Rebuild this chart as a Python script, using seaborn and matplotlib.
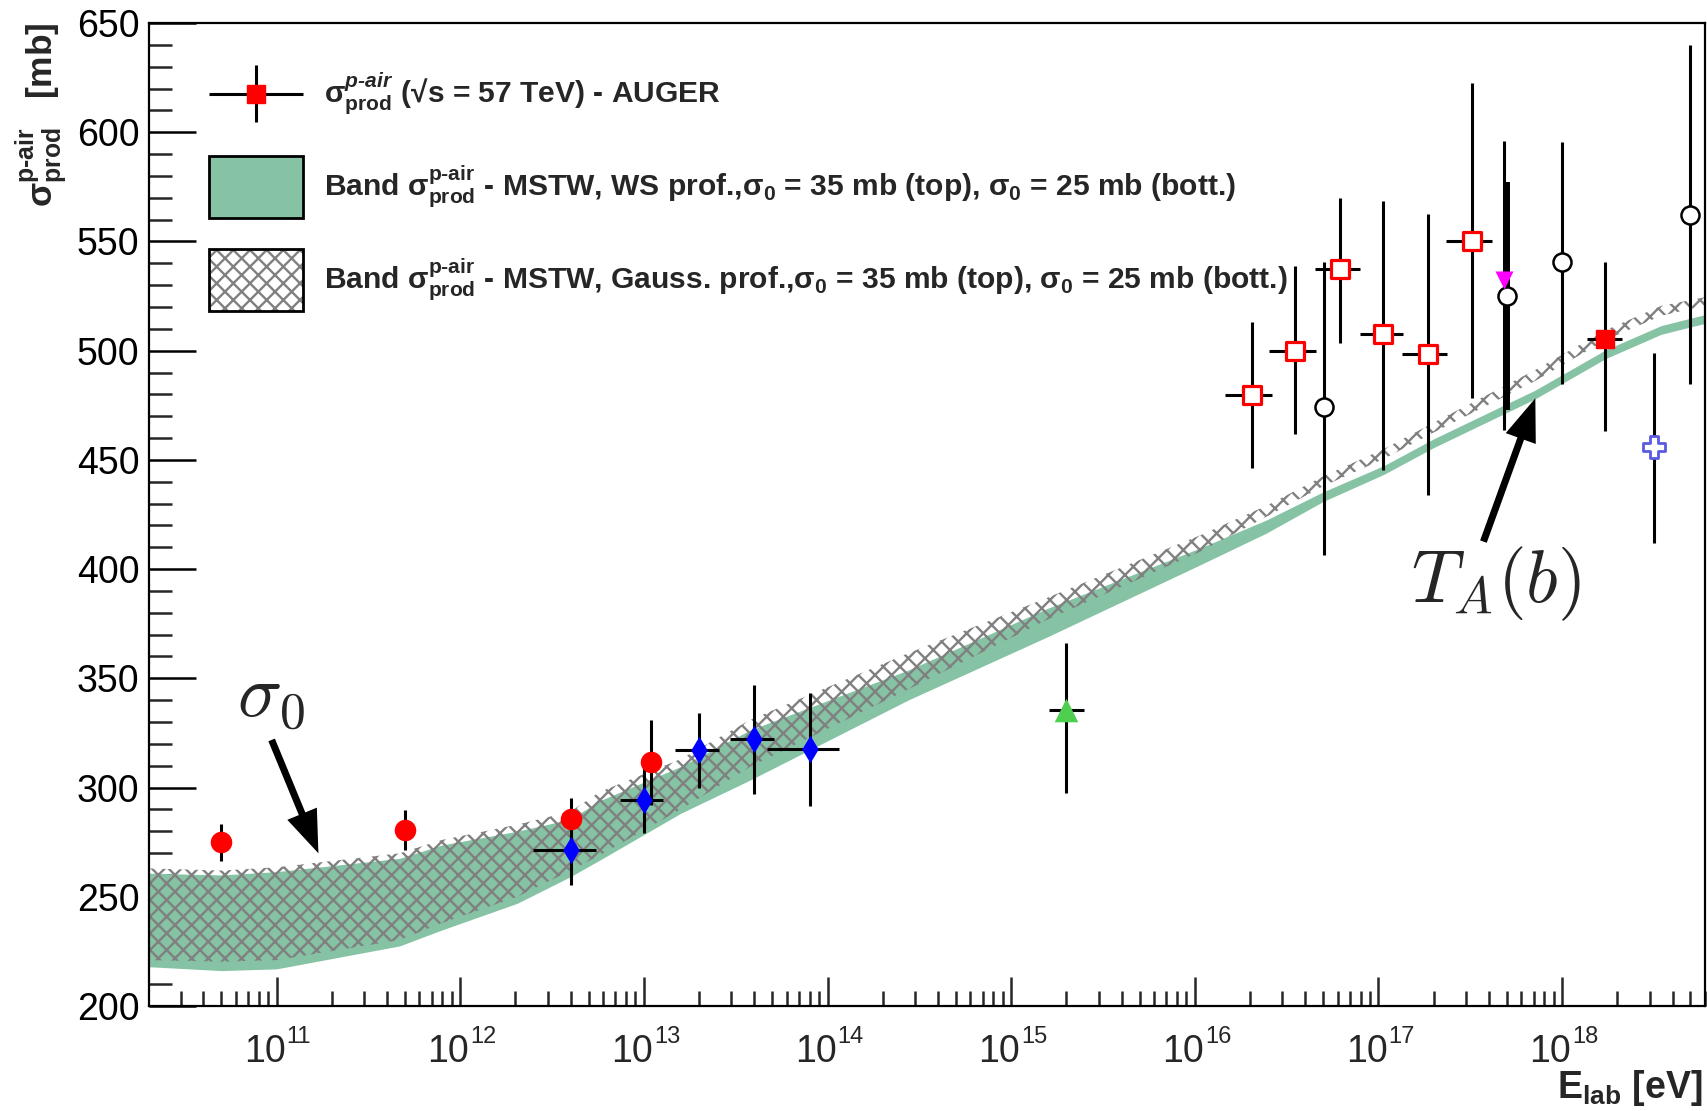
import numpy as np
import matplotlib
matplotlib.use("Agg")
import matplotlib.pyplot as plt
import seaborn as sns
from matplotlib.patches import Patch
from matplotlib.container import ErrorbarContainer
from matplotlib.legend_handler import HandlerErrorbar, HandlerTuple
from matplotlib.ticker import MultipleLocator, LogLocator, NullFormatter
from matplotlib.transforms import offset_copy

# ---------------- data ----------------
# model bands, sampled in log10(E_lab / eV)
band_logE = [10.30, 10.70, 11.00, 11.67, 11.90, 12.31, 12.60, 12.76, 13.20, 13.58, 14.44,
             15.20, 16.03, 16.39, 16.70, 17.03, 17.30, 17.85, 18.24, 18.54, 18.72, 18.78]
ws_low = [218.0, 216.2, 217.0, 227.5, 234.8, 247.0, 259.2, 266.8, 288.2, 303.5, 340.1,
          369.1, 402.0, 416.5, 431.0, 443.4, 455.6, 477.8, 496.5, 507.5, 511.3, 512.5]
ws_high = [260.8, 260.0, 261.5, 267.6, 273.7, 280.0, 285.5, 294.0, 309.6, 326.4, 353.8,
           382.1, 409.7, 422.5, 435.4, 447.4, 459.6, 481.8, 500.5, 511.5, 515.3, 516.5]
gauss_low = [221.0, 220.3, 221.0, 230.2, 238.0, 250.0, 262.0, 269.0, 290.0, 309.6, 345.0,
             377.0, 408.0, 424.0, 438.0, 450.5, 462.5, 486.0, 505.0, 516.0, 519.5, 520.5]
gauss_high = [263.0, 262.0, 263.5, 269.9, 276.0, 283.0, 289.0, 298.0, 313.0, 331.0, 361.5,
              387.0, 415.5, 429.0, 442.5, 455.0, 467.0, 491.0, 509.5, 520.5, 523.5, 524.5]

# red filled circles
rc_E = [5.0e10, 5.0e11, 4.0e12, 1.1e13]
rc_sig = [275.0, 280.5, 285.5, 311.5]
rc_err = [8.5, 9.0, 9.5, 19.5]

# blue diamonds
bd_E = [4.0e12, 1.0e13, 2.0e13, 4.0e13, 8.0e13]
bd_sig = [271.5, 294.5, 317.0, 322.0, 317.5]
bd_err = [16.0, 15.5, 17.0, 25.0, 26.0]
bd_Elo = [2.5e12, 7.4e12, 1.48e13, 2.95e13, 4.7e13]
bd_Ehi = [5.5e12, 1.27e13, 2.55e13, 5.1e13, 1.15e14]

# green triangle
gt_E = [2.0e15]
gt_sig = [335.5]
gt_lo = [297.4]
gt_hi = [366.0]
gt_Elo = [1.6e15]
gt_Ehi = [2.5e15]

# red open squares
os_E = [2.05e16, 3.52e16, 6.2e16, 1.06e17, 1.86e17, 3.23e17]
os_sig = [479.8, 500.0, 537.5, 507.6, 498.5, 550.4]
os_lo = [446.2, 461.9, 503.7, 445.4, 433.7, 478.2]
os_hi = [513.3, 538.8, 570.1, 568.7, 562.6, 622.5]
os_Elo = [1.46e16, 2.55e16, 4.49e16, 7.9e16, 1.34e17, 2.34e17]
os_Ehi = [2.63e16, 4.58e16, 7.96e16, 1.36e17, 2.36e17, 4.15e17]

# black open circles (the second one carries a thick bar)
oc_E = [5.07e16, 5.0e17, 1.0e18, 5.0e18]
oc_sig = [474.1, 525.2, 540.5, 561.9]
oc_lo = [406.5, 473.0, 484.7, 484.7]
oc_hi = [540.8, 577.0, 595.4, 639.7]

# magenta down triangle
mt_E = [4.8e17]
mt_sig = [532.4]
mt_lo = [463.7]
mt_hi = [596.2]

# AUGER point
au_E = [1.72e18]
au_sig = [505.3]
au_lo = [463.0]
au_hi = [540.8]
au_Elo = [1.36e18]
au_Ehi = [2.12e18]

# blue open cross
bc_E = [3.15e18]
bc_sig = [456.1]
bc_lo = [412.1]
bc_hi = [499.1]

ytick_values = [200, 250, 300, 350, 400, 450, 500, 550, 600, 650]
xtick_exponents = [11, 12, 13, 14, 15, 16, 17, 18]

label_auger = "$\\mathbf{\\sigma^{\\mathbfit{p\u2010air}}_{prod}}$ (\u221as = 57 TeV) - AUGER"
label_ws = ("Band $\\mathbf{\\sigma^{p\u2010air}_{prod}}$ - MSTW, WS prof.,"
            "$\\mathbf{\\sigma_0}$ = 35 mb (top), $\\mathbf{\\sigma_0}$ = 25 mb (bott.)")
label_gauss = ("Band $\\mathbf{\\sigma^{p\u2010air}_{prod}}$ - MSTW, Gauss. prof.,"
               "$\\mathbf{\\sigma_0}$ = 35 mb (top), $\\mathbf{\\sigma_0}$ = 25 mb (bott.)")
ylabel_text = "$\\mathbf{\\sigma^{p\u2010air}_{prod}}$ \u2002[mb]"
xlabel_text = "$\\mathbf{E_{lab}}$ [eV]"

# ---------------- style ----------------
sns.set_theme(style="white")
plt.rcParams.update({
    "font.family": ["Liberation Sans", "DejaVu Sans"],
    "mathtext.fontset": "custom",
    "mathtext.rm": "Liberation Sans",
    "mathtext.it": "Liberation Sans:italic",
    "mathtext.bf": "Liberation Sans:bold",
    "mathtext.bfit": "Liberation Sans:bold:italic",
    "mathtext.sf": "Liberation Sans",
    "hatch.linewidth": 1.7,
    "hatch.color": "#808080",
    "axes.linewidth": 1.6,
    "axes.edgecolor": "black",
})

GREEN = "#86c3a5"
HATCH = "#808080"
ELW = 2.2


class CenteredErrorbar(HandlerErrorbar):
    """Errorbar legend handle with the marker centred in a tall handle box."""

    def create_artists(self, legend, orig_handle, xdescent, ydescent, width, height,
                       fontsize, trans):
        return super().create_artists(legend, orig_handle, xdescent, 2 * ydescent,
                                      width, height, fontsize, trans)


fig = plt.figure(figsize=(17.08, 11.11), dpi=100)
ax = fig.add_axes([149 / 1708, 105 / 1111, 1556 / 1708, 983 / 1111])
ax.set_xscale("log")
ax.set_xlim(2.02e10, 6.0e18)
ax.set_ylim(200, 650)

# ---------------- bands ----------------
band_E = np.power(10.0, band_logE)
ax.fill_between(band_E, ws_low, ws_high, color=GREEN, lw=0, zorder=1)
ax.fill_between(band_E, gauss_low, gauss_high, facecolor="none", edgecolor=HATCH,
                hatch="xx", lw=0, zorder=2)


def asym(sig, lo, hi):
    s = np.asarray(sig)
    return [s - np.asarray(lo), np.asarray(hi) - s]


# ---------------- error bars ----------------
eb = dict(fmt="none", ecolor="black", elinewidth=ELW, capsize=0, zorder=3)
ax.errorbar(rc_E, rc_sig, yerr=rc_err, **eb)
ax.errorbar(bd_E, bd_sig, yerr=bd_err, xerr=asym(bd_E, bd_Elo, bd_Ehi), **eb)
ax.errorbar(gt_E, gt_sig, yerr=asym(gt_sig, gt_lo, gt_hi), xerr=asym(gt_E, gt_Elo, gt_Ehi), **eb)
ax.errorbar(os_E, os_sig, yerr=asym(os_sig, os_lo, os_hi), xerr=asym(os_E, os_Elo, os_Ehi), **eb)
thin = [0, 2, 3]
ax.errorbar([oc_E[i] for i in thin], [oc_sig[i] for i in thin],
            yerr=asym([oc_sig[i] for i in thin], [oc_lo[i] for i in thin], [oc_hi[i] for i in thin]), **eb)
ax.errorbar(oc_E[1:2], oc_sig[1:2], yerr=asym(oc_sig[1:2], oc_lo[1:2], oc_hi[1:2]),
            fmt="none", ecolor="black", elinewidth=4.3, capsize=0, zorder=3)
ax.errorbar(mt_E, mt_sig, yerr=asym(mt_sig, mt_lo, mt_hi), **eb)
ax.errorbar(bc_E, bc_sig, yerr=asym(bc_sig, bc_lo, bc_hi), **eb)

# ---------------- markers ----------------
sns.scatterplot(x=rc_E, y=rc_sig, marker="o", s=15.5 ** 2, color="red", linewidth=0, ax=ax, zorder=5)
sns.scatterplot(x=bd_E, y=bd_sig, marker="d", s=14 ** 2, color="blue", linewidth=0, ax=ax, zorder=5)
sns.scatterplot(x=gt_E, y=gt_sig, marker="^", s=17 ** 2, color="#4fcf4f", linewidth=0, ax=ax, zorder=5)
sns.scatterplot(x=os_E, y=os_sig, marker="s", s=13 ** 2, color="white", edgecolor="red",
                linewidth=2.3, ax=ax, zorder=5)
sns.scatterplot(x=oc_E, y=oc_sig, marker="o", s=13 ** 2, color="white", edgecolor="black",
                linewidth=1.8, ax=ax, zorder=5)
sns.scatterplot(x=mt_E, y=mt_sig, marker="v", s=13 ** 2, color="magenta", linewidth=0, ax=ax, zorder=6)
sns.scatterplot(x=bc_E, y=bc_sig, marker="P", s=16 ** 2, color="white", edgecolor="#5a5ae0",
                linewidth=2.0, ax=ax, zorder=5)
h_auger = ax.errorbar(au_E, au_sig, yerr=asym(au_sig, au_lo, au_hi), xerr=asym(au_E, au_Elo, au_Ehi),
                      fmt="s", ms=12.5, mfc="red", mec="red", ecolor="black", elinewidth=ELW,
                      capsize=0, zorder=6)

# ---------------- axes ----------------
ax.set_yticks(ytick_values)
ax.yaxis.set_minor_locator(MultipleLocator(10))
ax.set_xticks([10.0 ** k for k in xtick_exponents])
ax.xaxis.set_minor_locator(LogLocator(base=10, subs=np.arange(2, 10), numticks=40))
ax.xaxis.set_major_formatter(NullFormatter())
ax.xaxis.set_minor_formatter(NullFormatter())
ax.tick_params(axis="y", which="major", direction="in", length=33.8, width=1.8,
               left=True, right=False, labelsize=27, pad=7, colors="black")
ax.tick_params(axis="y", which="minor", direction="in", length=16.9, width=1.8, left=True, right=False)
ax.tick_params(axis="x", which="major", direction="in", length=21.2, width=1.8,
               bottom=True, top=False, labelbottom=False)
ax.tick_params(axis="x", which="minor", direction="in", length=10.6, width=1.8, bottom=True, top=False)
for sp in ax.spines.values():
    sp.set_visible(True)
    sp.set_color("black")
    sp.set_linewidth(1.6)

xt = ax.get_xaxis_transform()
for k in xtick_exponents:
    ax.text(10.0 ** k, 0, "10", transform=offset_copy(xt, fig=fig, x=9 * 0.72, y=-55.7 * 0.72, units="points"),
            ha="right", va="baseline", fontsize=27)
    ax.text(10.0 ** k, 0, str(k), transform=offset_copy(xt, fig=fig, x=10 * 0.72, y=-37 * 0.72, units="points"),
            ha="left", va="baseline", fontsize=17)

fig.text(42 / 1708, 1 - 22 / 1111, ylabel_text, rotation=90,
         ha="center", va="top", fontsize=25.5, fontweight="bold")
fig.text(1703 / 1708, 13 / 1111, xlabel_text, ha="right", va="baseline",
         fontsize=27, fontweight="bold")

# ---------------- legend ----------------
ws_proxy = Patch(facecolor=GREEN, edgecolor="black", lw=2)
g_hatch = Patch(facecolor="white", edgecolor=HATCH, hatch="xx", lw=0)
g_frame = Patch(facecolor="none", edgecolor="black", lw=2)
ax.legend([h_auger, ws_proxy, (g_hatch, g_frame)], [label_auger, label_ws, label_gauss],
          loc="upper left", bbox_to_anchor=(0.0386, 0.9598), frameon=False,
          prop=dict(family=["Liberation Sans", "DejaVu Sans"], weight="bold", size=21.6),
          handlelength=3.13, handleheight=2.82, handletextpad=0.69, labelspacing=1.03,
          borderpad=0, borderaxespad=0, numpoints=1,
          handler_map={ErrorbarContainer: CenteredErrorbar(xerr_size=1.57, yerr_size=0.94),
                       tuple: HandlerTuple(ndivide=1, pad=0)})

# ---------------- annotations ----------------
arrow = dict(arrowstyle="simple,head_length=1.34,head_width=1.0,tail_width=0.22",
             mutation_scale=23, fc="black", ec="none", shrinkA=0, shrinkB=0)
ax.annotate("", xy=(1.69e11, 269.9), xytext=(9.4e10, 321.8), arrowprops=arrow, zorder=7)
ax.annotate("", xy=(7.15e17, 478.2), xytext=(3.73e17, 412.6), arrowprops=arrow, zorder=7)
ax.text(6.08e10, 332.8, r"$\sigma_0$", fontsize=53, math_fontfamily="cm", ha="left", va="baseline")
ax.text(1.51e17, 384.9, r"$T_A(b)$", fontsize=53, math_fontfamily="cm", ha="left", va="baseline")

fig.savefig("out.png", dpi=100)
